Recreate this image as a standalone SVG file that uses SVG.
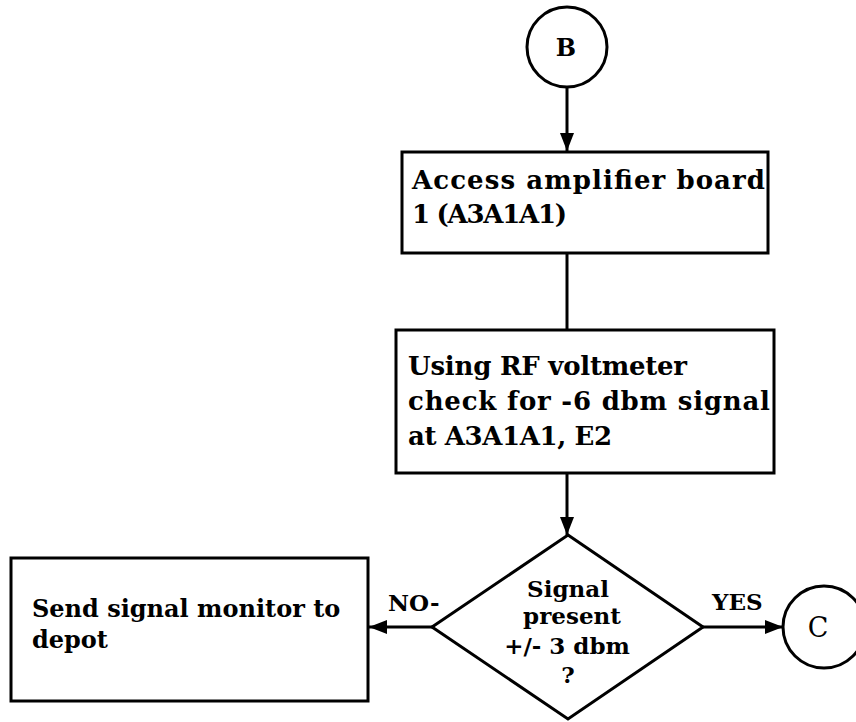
<svg xmlns="http://www.w3.org/2000/svg" width="856" height="722" viewBox="0 0 856 722">
  <style>
    .shape { fill: #fff; stroke: #000; stroke-width: 3; }
    .edge { fill: none; stroke: #000; stroke-width: 3; }
    .t { font-family: "DejaVu Serif", "Liberation Serif", serif; font-weight: bold; font-size: 26px; fill: #000; }
    .s { font-size: 23px; }
    .c { text-anchor: middle; }
  </style>
  <defs>
    <marker id="arrow" markerUnits="userSpaceOnUse" markerWidth="20" markerHeight="14" refX="18" refY="7" orient="auto">
      <path d="M0,0 L18,7 L0,14 Z" fill="#000"/>
    </marker>
  </defs>
  <rect width="856" height="722" fill="#fff"/>

  <g id="connectors">
    <line class="edge" x1="567" y1="87" x2="567" y2="151" marker-end="url(#arrow)"/>
    <line class="edge" x1="567" y1="253" x2="567" y2="330"/>
    <line class="edge" x1="567" y1="473" x2="567" y2="535" marker-end="url(#arrow)"/>
    <line class="edge" x1="432" y1="627" x2="369" y2="627" marker-end="url(#arrow)"/>
    <line class="edge" x1="703" y1="627" x2="783" y2="627" marker-end="url(#arrow)"/>
    <text class="t s" x="388" y="611">NO-</text>
    <text class="t s" x="712" y="610">YES</text>
  </g>

  <g id="nodeB">
    <circle class="shape" cx="567" cy="47" r="40"/>
    <text class="t c" x="566" y="56" style="font-size:24px">B</text>
  </g>

  <g id="access">
    <rect class="shape" x="402" y="152" width="366" height="101"/>
    <text class="t" x="412" y="189" textLength="353">Access amplifier board</text>
    <text class="t" x="412" y="223" textLength="155">1 (A3A1A1)</text>
  </g>

  <g id="check">
    <rect class="shape" x="396" y="330" width="378" height="143"/>
    <text class="t" x="408" y="375" textLength="279">Using RF voltmeter</text>
    <text class="t" x="408" y="410" textLength="362">check for -6 dbm signal</text>
    <text class="t" x="408" y="445" textLength="204">at A3A1A1, E2</text>
  </g>

  <g id="decision">
    <polygon class="shape" points="568,535 703,627 568,719 432,627"/>
    <text class="t s c" x="568" y="597">Signal</text>
    <text class="t s c" x="572" y="624">present</text>
    <text class="t s c" x="567" y="654">+/- 3 dbm</text>
    <text class="t s c" x="568" y="683">?</text>
  </g>

  <g id="depot">
    <rect class="shape" x="11" y="558" width="357" height="143"/>
    <text class="t" x="32" y="617" style="font-size:24px">Send signal monitor to</text>
    <text class="t" x="32" y="648" style="font-size:24px">depot</text>
  </g>

  <g id="nodeC">
    <circle class="shape" cx="824" cy="627" r="41"/>
    <text class="t c" x="818" y="637" style="font-weight:normal;font-size:27px">C</text>
  </g>
</svg>
